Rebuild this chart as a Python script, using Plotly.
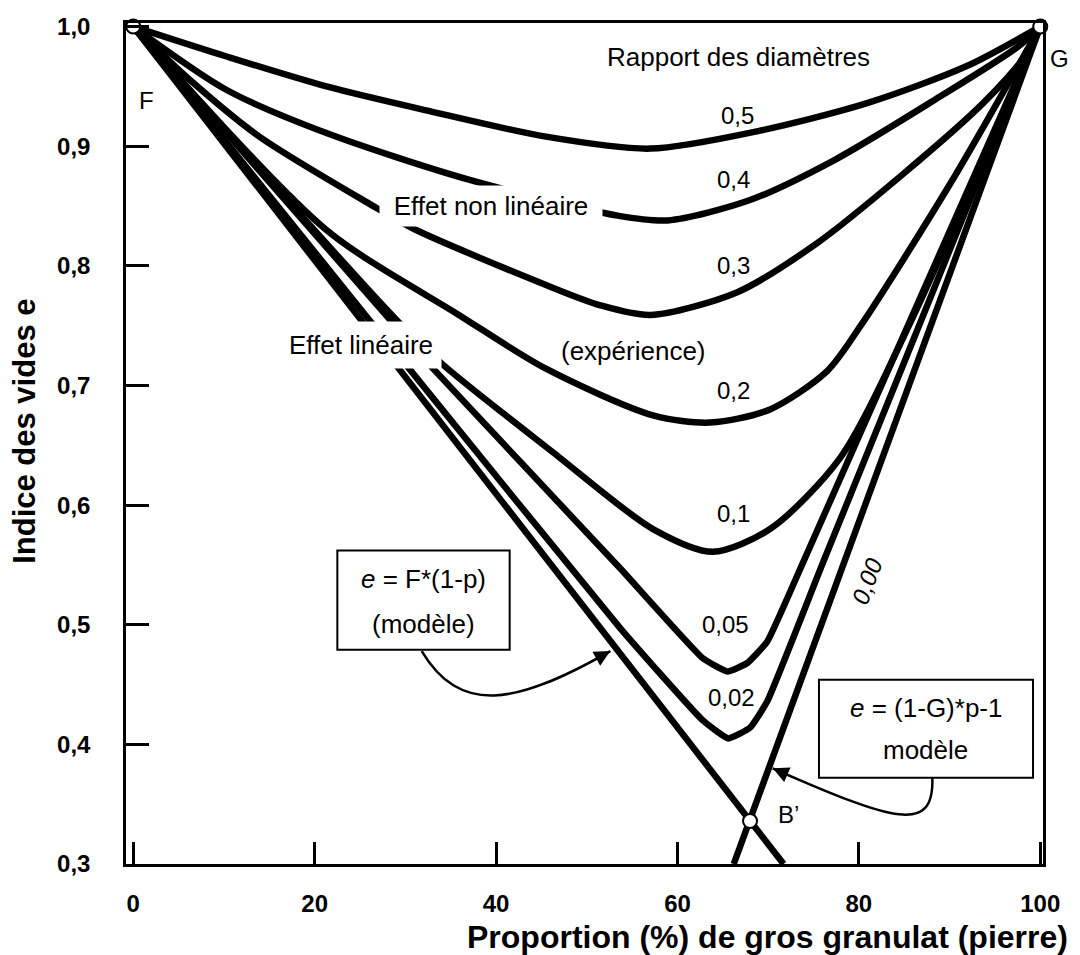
import plotly.graph_objects as go

# ---- data (p in %, e = void index) ----
p_05 = [0, 10.3, 21.3, 32.3, 45.5, 57.0, 69.1, 80.9, 91.9, 100]
e_05 = [1.0, 0.975, 0.950, 0.930, 0.908, 0.898, 0.913, 0.936, 0.967, 1.0]

p_04 = [0, 10.3, 21.3, 37.0, 53.4, 58.9, 68.0, 77.2, 88.2, 97.5, 100]
e_04 = [1.0, 0.947, 0.911, 0.872, 0.842, 0.838, 0.855, 0.888, 0.938, 0.983, 1.0]

p_03 = [0, 6.6, 13.9, 26.0, 30.9, 45.5, 51.5, 57.0, 66.6, 75.4, 84.6, 93.7, 98.6, 100]
e_03 = [1.0, 0.953, 0.908, 0.852, 0.831, 0.784, 0.767, 0.759, 0.778, 0.819, 0.875, 0.936, 0.978, 1.0]

p_02 = [0, 21.3, 35.9, 45.5, 57.3, 63.6, 70.2, 76.5, 80.2, 90.1, 100]
e_02 = [1.0, 0.830, 0.759, 0.714, 0.675, 0.669, 0.680, 0.712, 0.750, 0.869, 1.0]

p_01 = [0, 29.0, 34.2, 46.3, 57.3, 63.9, 70.2, 77.9, 85.7, 100]
e_01 = [1.0, 0.755, 0.717, 0.644, 0.580, 0.561, 0.580, 0.639, 0.753, 1.0]

p_005 = [0, 28.3, 32.7, 53.7, 62.8, 65.5, 67.7, 69.9, 73.9, 100]
e_005 = [1.0, 0.755, 0.717, 0.547, 0.472, 0.461, 0.468, 0.486, 0.553, 1.0]

p_002 = [0, 26.0, 30.1, 53.7, 62.8, 65.6, 68.0, 69.9, 76.1, 100]
e_002 = [1.0, 0.755, 0.717, 0.497, 0.420, 0.405, 0.414, 0.436, 0.553, 1.0]

# model lines
p_fine = [0, 71.7]          # e = F*(1-p)
e_fine = [1.0, 0.3]
p_coarse = [66.2, 100]      # e = (1-G)*p-1  (ratio 0,00)
e_coarse = [0.3, 1.0]

# special points F, G, B'
pt_names = ["F", "G", "B’"]
pt_p = [0, 100, 68.0]
pt_e = [1.0, 1.0, 0.336]

ratio_labels = ["0,5", "0,4", "0,3", "0,2", "0,1", "0,05", "0,02", "0,00"]

x_ticks = [0, 20, 40, 60, 80, 100]
y_ticks = [0.3, 0.4, 0.5, 0.6, 0.7, 0.8, 0.9, 1.0]

FONT = "Liberation Sans, Arial, sans-serif"
LW = 6.5

fig = go.Figure()

smooth_curves = [(p_05, e_05), (p_04, e_04), (p_03, e_03), (p_02, e_02), (p_01, e_01)]
for p, e in smooth_curves:
    fig.add_trace(go.Scatter(x=p, y=e, mode="lines",
                             line=dict(color="black", width=LW, shape="spline", smoothing=0.8),
                             hoverinfo="skip", showlegend=False))
for p, e in [(p_005, e_005), (p_002, e_002)]:
    fig.add_trace(go.Scatter(x=p, y=e, mode="lines",
                             line=dict(color="black", width=LW, shape="spline", smoothing=0.4),
                             hoverinfo="skip", showlegend=False))
for p, e in [(p_fine, e_fine), (p_coarse, e_coarse)]:
    fig.add_trace(go.Scatter(x=p, y=e, mode="lines",
                             line=dict(color="black", width=LW),
                             hoverinfo="skip", showlegend=False))

fig.add_trace(go.Scatter(x=pt_p, y=pt_e, mode="markers", cliponaxis=False,
                         marker=dict(symbol="circle", size=14, color="white",
                                     line=dict(color="black", width=2)),
                         hoverinfo="skip", showlegend=False))

ann = []

def txt(x, y, s, size=26, **kw):
    d = dict(x=x, y=y, xref="x", yref="y", text=s, showarrow=False,
             font=dict(family=FONT, size=size, color="black"))
    d.update(kw)
    ann.append(d)

# point labels
txt(1.5, 0.938, pt_names[0], size=24)
ann.append(dict(x=1.031, y=0.976, xref="paper", yref="paper", text=pt_names[1], showarrow=False,
                font=dict(family=FONT, size=24, color="black")))
txt(72.2, 0.341, pt_names[2], size=24)

# ratio labels
lab_pos = [(66.6, 0.926), (66.2, 0.872), (66.2, 0.800), (66.2, 0.696),
           (66.2, 0.593), (65.3, 0.500), (66.0, 0.439)]
for (x, y), s in zip(lab_pos, ratio_labels[:7]):
    txt(x, y, s, size=24)
txt(80.9, 0.536, "<i>" + ratio_labels[7] + "</i>", size=24, textangle=-70)

txt(66.7, 0.975, "Rapport des diamètres")
txt(39.4, 0.850, "Effet non linéaire", bgcolor="white", borderpad=0, width=222, height=40)
txt(25.1, 0.734, "Effet linéaire", bgcolor="white", borderpad=0, width=160, height=46)
txt(55.1, 0.729, "(expérience)")

# model boxes text
txt(32.0, 0.538, "<i>e</i> = F*(1-p)")
txt(32.0, 0.501, "(modèle)")
txt(87.4, 0.430, "<i>e</i> = (1-G)*p-1")
txt(87.4, 0.395, "modèle")

# arrowheads
ann.append(dict(x=52.6, y=0.478, ax=50.2, ay=0.468, xref="x", yref="y", axref="x", ayref="y",
                text="", showarrow=True, arrowhead=2, arrowsize=1.6, arrowwidth=2, arrowcolor="black"))
ann.append(dict(x=70.5, y=0.380, ax=73.0, ay=0.3717, xref="x", yref="y", axref="x", ayref="y",
                text="", showarrow=True, arrowhead=2, arrowsize=1.6, arrowwidth=2, arrowcolor="black"))

# axis titles
ann.append(dict(x=1.0294, y=-0.087, xref="paper", yref="paper", xanchor="right", yanchor="middle",
                text="<b>Proportion (%) de gros granulat (pierre)</b>", showarrow=False,
                font=dict(family=FONT, size=32, color="black")))
ann.append(dict(x=-0.110, y=0.514, xref="paper", yref="paper", xanchor="center", yanchor="middle",
                text="<b>Indice des vides e</b>", showarrow=False, textangle=-90,
                font=dict(family=FONT, size=31, color="black")))

shapes = [
    dict(type="rect", xref="x", yref="y", x0=22.5, x1=41.5, y0=0.479, y1=0.562,
         line=dict(color="black", width=2), fillcolor="white", layer="above"),
    dict(type="rect", xref="x", yref="y", x0=75.6, x1=99.2, y0=0.372, y1=0.454,
         line=dict(color="black", width=2), fillcolor="white", layer="above"),
    dict(type="path", xref="x", yref="y",
         path="M 31.8,0.478 C 36,0.425 42,0.432 52.6,0.478",
         line=dict(color="black", width=2.5), layer="above"),
    dict(type="path", xref="x", yref="y",
         path="M 88.1,0.372 C 88.3,0.325 84,0.335 70.5,0.380",
         line=dict(color="black", width=2.5), layer="above"),
]

fig.update_layout(
    width=1080, height=955,
    margin=dict(l=126, r=37, t=23, b=91),
    paper_bgcolor="white", plot_bgcolor="white",
    separators=", ",
    annotations=ann, shapes=shapes,
    xaxis=dict(range=[-0.8, 100.3], tickvals=x_ticks, ticks="inside", ticklen=22, tickwidth=2.5,
               tickcolor="black", showline=True, linewidth=2.5, linecolor="black", mirror=True,
               showgrid=False, zeroline=False, ticklabelstandoff=16,
               tickfont=dict(family=FONT, size=24, color="black", weight="bold")),
    yaxis=dict(range=[0.3, 1.003], tickvals=y_ticks, tickformat=".1f", ticks="inside", ticklen=23,
               tickwidth=2.5, tickcolor="black", showline=True, linewidth=2.5, linecolor="black",
               mirror=True, showgrid=False, zeroline=False, ticklabelstandoff=28,
               tickfont=dict(family=FONT, size=24, color="black", weight="bold")),
)

fig.write_html("out.html")
